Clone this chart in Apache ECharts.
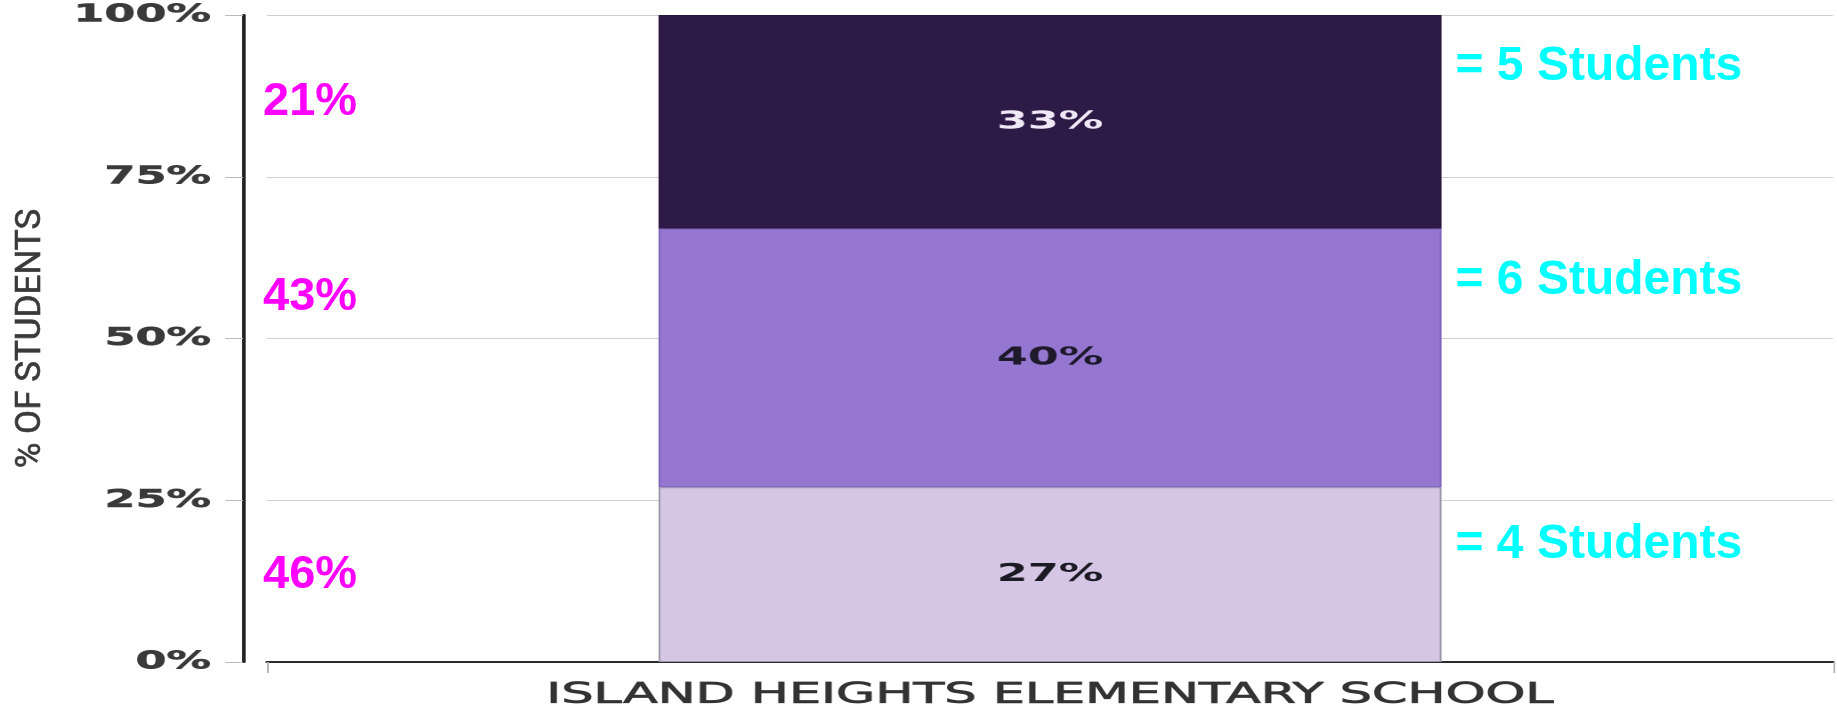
<!DOCTYPE html>
<html>
<head>
<meta charset="utf-8">
<script src="https://cdn.jsdelivr.net/npm/echarts@6/dist/echarts.min.js"></script>
<style>
html, body { margin: 0; padding: 0; background: #ffffff; overflow: hidden; }
#wrap { position: relative; width: 1837px; height: 713px; }
#base { position: absolute; left: 0; top: 0; width: 1032px; height: 713px; transform-origin: 0 0; }
#over { position: absolute; left: 0; top: 0; width: 1837px; height: 713px; pointer-events: none; }
</style>
</head>
<body>
<div id="wrap"><div id="base"></div><div id="over"></div></div>
<script>
// ---- data ----
const categories = ['ISLAND HEIGHTS ELEMENTARY SCHOOL'];
const levelNames = ['Level 1', 'Level 2', 'Level 3'];      // bottom -> top
const levelPercents = [27, 40, 33];                        // % of students per level
const studentCounts = [4, 6, 5];                           // students per level
const comparisonPercents = [46, 43, 21];                   // pink comparison figures
const yTicks = [0, 25, 50, 75, 100];
const yAxisTitle = '% OF STUDENTS';

// ---- styles ----
const FULL_W = 1837, BASE_W = 1032, S = FULL_W / BASE_W;
document.getElementById('base').style.transform = 'scaleX(' + S + ')';
const levelColors = ['#d6c6e6', '#9577d2', '#2e1a47'];
const levelBorders = ['#9c95a8', '#7c63bd', '#2a1740'];
const levelLabelColors = ['#1c1a22', '#1e1a2c', '#efe8f6'];
const cyanDy = [57, 52, 52];
const pinkDy = [88, 69, 87];
const GRID = { left: 267, right: 4, top: 15, bottom: 51 };

// ---- base (horizontally stretched) chart ----
const base = echarts.init(document.getElementById('base'), null, { renderer: 'canvas', devicePixelRatio: 2 });
base.setOption({
  animation: false,
  backgroundColor: '#ffffff',
  grid: { left: GRID.left / S, right: GRID.right / S, top: GRID.top, bottom: GRID.bottom },
  xAxis: {
    type: 'category',
    data: categories,
    axisLine: { show: true, lineStyle: { color: '#2b2b2b', width: 2 } },
    axisTick: { show: true, length: 11, lineStyle: { color: '#b5b5b5', width: 1 } },
    axisLabel: {
      fontFamily: 'DejaVu Sans', fontSize: 28.5, color: '#333333', margin: 19,
      textBorderColor: '#333333', textBorderWidth: 0.7
    },
    splitLine: { show: false }
  },
  yAxis: {
    type: 'value',
    min: yTicks[0],
    max: yTicks[yTicks.length - 1],
    interval: yTicks[1] - yTicks[0],
    offset: 24 / S,
    axisLine: { show: true, lineStyle: { color: '#222222', width: 2 } },
    axisTick: { show: true, length: 10, lineStyle: { color: '#bbbbbb', width: 1 } },
    axisLabel: {
      formatter: '{value}%', fontFamily: 'DejaVu Sans', fontWeight: 'bold', fontSize: 25,
      color: '#3a3a3a', margin: 18, textBorderColor: '#3a3a3a', textBorderWidth: 0.5
    },
    splitLine: { show: true, lineStyle: { color: '#cfcfcf', width: 1 } }
  },
  series: levelPercents.map((v, i) => ({
    name: levelNames[i],
    type: 'bar',
    stack: 'total',
    barWidth: '50%',
    data: [v],
    itemStyle: { color: levelColors[i], borderColor: levelBorders[i], borderWidth: 1 },
    label: {
      show: true, position: 'inside', formatter: '{c}%',
      fontFamily: 'DejaVu Sans', fontWeight: 'bold', fontSize: 25, color: levelLabelColors[i]
    }
  }))
});

// ---- overlay (unstretched annotations) ----
const over = echarts.init(document.getElementById('over'), null, { renderer: 'canvas' });
const annFont = "'Liberation Sans', Arial, sans-serif";
const cyanSeries = levelPercents.map((v, i) => ({
  name: levelNames[i] + ' count',
  type: 'bar', stack: 'cyan', barWidth: '50%', barGap: '-100%', silent: true,
  data: [v],
  itemStyle: { color: 'rgba(0,0,0,0)' },
  label: {
    show: true, position: ['100%', 0], offset: [14, cyanDy[i]],
    align: 'left', verticalAlign: 'middle',
    formatter: () => '= ' + studentCounts[i] + ' Students',
    fontFamily: annFont, fontWeight: 'bold', fontSize: 48, color: '#00ffff'
  }
}));
const pinkSeries = levelPercents.map((v, i) => ({
  name: levelNames[i] + ' comparison',
  type: 'bar', stack: 'pink', barWidth: '50%', barGap: '-100%', silent: true,
  data: [v],
  itemStyle: { color: 'rgba(0,0,0,0)' },
  label: {
    show: true, position: ['-50%', 0], offset: [-4, pinkDy[i]],
    align: 'left', verticalAlign: 'middle',
    formatter: () => comparisonPercents[i] + '%',
    fontFamily: annFont, fontWeight: 'bold', fontSize: 47, color: '#ff00ff'
  }
}));
over.setOption({
  animation: false,
  grid: GRID,
  xAxis: { type: 'category', data: categories, show: false },
  yAxis: {
    type: 'value', min: yTicks[0], max: yTicks[yTicks.length - 1],
    axisLine: { show: false }, axisTick: { show: false }, axisLabel: { show: false }, splitLine: { show: false },
    name: yAxisTitle, nameLocation: 'middle', nameRotate: 90, nameGap: 218,
    nameTextStyle: {
      fontFamily: "Roboto, 'Liberation Sans', sans-serif", fontSize: 35, color: '#3a3a3a',
      textBorderColor: '#3a3a3a', textBorderWidth: 0.6
    }
  },
  series: cyanSeries.concat(pinkSeries)
});
</script>
</body>
</html>
